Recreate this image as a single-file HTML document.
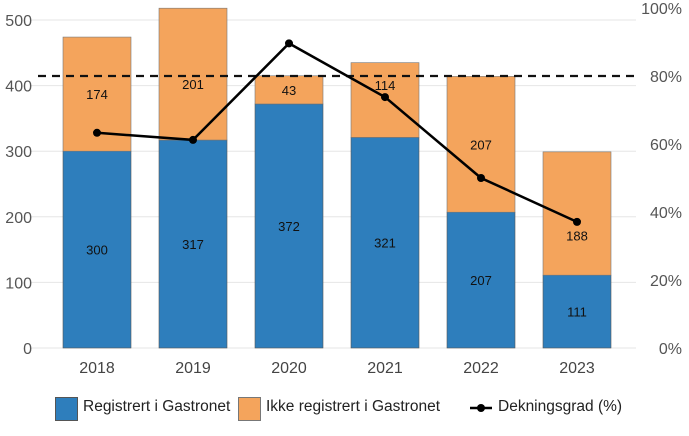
<!DOCTYPE html>
<html><head><meta charset="utf-8"><style>
body{margin:0;background:#fff;font-family:"Liberation Sans",sans-serif}
</style></head><body>
<svg id="chart" width="689" height="431" xmlns="http://www.w3.org/2000/svg" font-family="Liberation Sans, sans-serif"></svg>
<script>
const years=["2018","2019","2020","2021","2022","2023"];
const registered=[300,317,372,321,207,111];
const notRegistered=[174,201,43,114,207,188];
const coverage=[63.3,61.2,89.6,73.8,50.0,37.1];
const leftTicks=[0,100,200,300,400,500];
const rightTicks=[0,20,40,60,80,100];
const target=80;
const labelNudge=[0,10,0,-15,0,22];

const svg=document.getElementById('chart');
const NS='http://www.w3.org/2000/svg';
function el(t,a,txt){const e=document.createElementNS(NS,t);for(const k in a)e.setAttribute(k,a[k]);if(txt!==undefined)e.textContent=txt;svg.appendChild(e);return e;}
const x0=38,x1=636,y0=348;
const yL=v=>y0-v*(328/500);
const yR=p=>y0-p*(340/100);
const step=96,bw=68;
const xc=i=>97+i*step;

leftTicks.forEach(t=>{
  const g=el('line',{x1:30,x2:x1,y1:yL(t),y2:yL(t),stroke:'#e6e6e6','stroke-width':1});
  
  
  const l=el('text',{x:32,y:yL(t)+6,'text-anchor':'end','font-size':16,fill:'#555'},t);
  
  
});
rightTicks.forEach(t=>{
  const l=el('text',{x:682,y:yR(t)+6,'text-anchor':'end','font-size':16,fill:'#555'},t+'%');
  
  
});
years.forEach((yr,i)=>{
  const x=xc(i)-bw/2;
  const b1=el('rect',{x:x,y:yL(registered[i]),width:bw,height:yL(0)-yL(registered[i]),fill:'#2e7ebc',stroke:'#555','stroke-width':0.6});
  
  
  const top=registered[i]+notRegistered[i];
  const b2=el('rect',{x:x,y:yL(top),width:bw,height:yL(registered[i])-yL(top),fill:'#f4a45c',stroke:'#777','stroke-width':0.6});
  
  
  const t1=el('text',{x:xc(i),y:yL(registered[i]/2)+5,'text-anchor':'middle','font-size':13,fill:'#111'},registered[i]);
  
  
  const t2=el('text',{x:xc(i),y:yL(registered[i]+notRegistered[i]/2)+5+labelNudge[i],'text-anchor':'middle','font-size':13,fill:'#111'},notRegistered[i]);
  
  
  const xl=el('text',{x:xc(i),y:373,'text-anchor':'middle','font-size':16,fill:'#444'},yr);
  
  
});
const d=el('line',{x1:x0,x2:x1,y1:yR(target),y2:yR(target),stroke:'#111','stroke-width':2.2,'stroke-dasharray':'8,6'});


const pts=coverage.map((v,i)=>xc(i)+','+yR(v)).join(' ');
const pl=el('polyline',{points:pts,fill:'none',stroke:'#000','stroke-width':2.5});


coverage.forEach((v,i)=>{
  const c=el('circle',{cx:xc(i),cy:yR(v),r:4,fill:'#000'});
  
  
});
</script>
<div style="position:absolute;left:0;top:0">
<div style="position:absolute;left:55px;top:397px;width:21px;height:22px;background:#2e7ebc;border:0.5px solid #555"></div>
<div style="position:absolute;left:83px;top:398px;font-size:15.5px;color:#222;white-space:nowrap">Registrert i Gastronet</div>
<div style="position:absolute;left:238px;top:397px;width:21px;height:22px;background:#f4a45c;border:0.5px solid #777"></div>
<div style="position:absolute;left:266px;top:398px;font-size:15.5px;color:#222;white-space:nowrap">Ikke registrert i Gastronet</div>
<svg style="position:absolute;left:468px;top:402px" width="26" height="12"><line x1="2" x2="24" y1="6" y2="6" stroke="#000" stroke-width="2.5"/><circle cx="13" cy="6" r="4" fill="#000"/></svg>
<div style="position:absolute;left:498px;top:398px;font-size:15.5px;color:#222;white-space:nowrap">Dekningsgrad (%)</div>
</div>
</body></html>
